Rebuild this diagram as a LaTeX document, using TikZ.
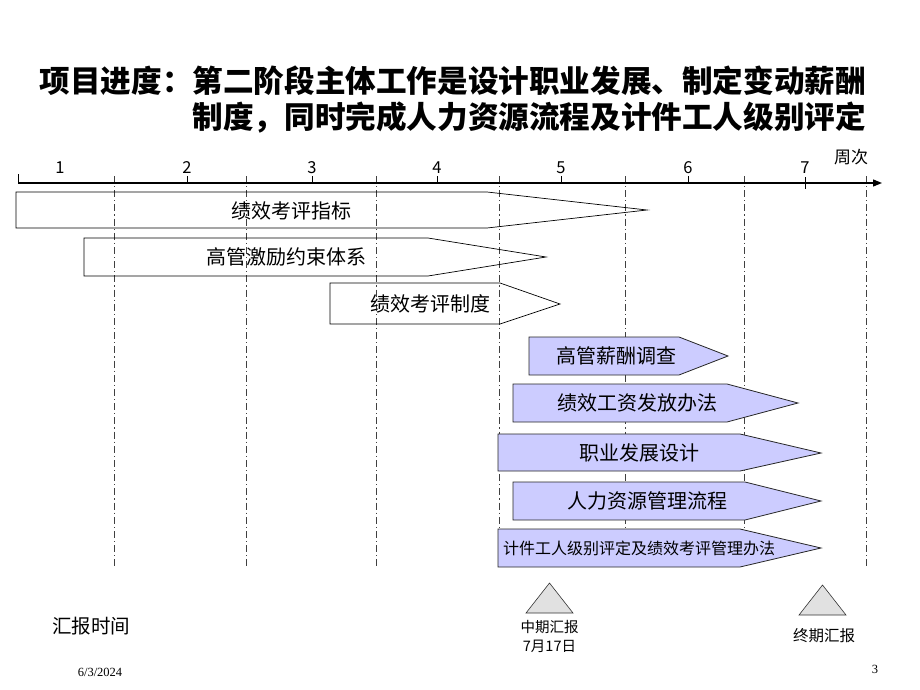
\documentclass[tikz,border=0pt]{standalone}
\usepackage{fontspec}
\setmainfont{Noto Sans CJK SC}
\newfontfamily\datefont{Liberation Serif}
\usetikzlibrary{positioning,arrows.meta}
\definecolor{mylavender}{RGB}{204,204,255}
\definecolor{mygray}{RGB}{225,225,225}

\begin{document}
\begin{tikzpicture}[x=1pt,y=-1pt,
  grid/.style={line width=0.6pt,black!75,dash pattern=on 7pt off 3pt on 1.2pt off 3pt},
  oldbar/.style={draw=black,line width=0.7pt},
  newbar/.style={draw=black!85,fill=mylavender,line width=0.8pt},
  barlabel/.style={font=\fontsize{20}{24}\selectfont,inner sep=0pt},
  weeklabel/.style={font=\fontsize{16.5}{19}\selectfont,inner sep=0pt},
  milestone/.style={draw=black!80,fill=mygray,line width=0.6pt},
  reportlabel/.style={font=\fontsize{14.5}{19}\selectfont,align=center,inner sep=0pt}]

  \useasboundingbox (0,0) rectangle (920,690);

  % title
  \node (title1) [anchor=east,inner sep=0pt,font=\fontsize{30.6}{36}\selectfont\bfseries]
    at (866,81) {项目进度：第二阶段主体工作是设计职业发展、制定变动薪酬};
  \node (title2) [anchor=east,inner sep=0pt,font=\fontsize{30.6}{36}\selectfont\bfseries]
    at (866,118) {制度，同时完成人力资源流程及计件工人级别评定};

  % week separators
  \foreach \x in {114,246,376,499,625,744,866}
    \draw[grid] (\x,176) -- (\x,568);

  % time axis
  \coordinate (axstart) at (18,183);
  \coordinate (axend) at (882,183);
  \draw[line width=1.3pt,-{Triangle[length=9pt,width=7pt]}] (axstart) -- (axend);
  \draw[line width=1pt] (18,174) -- (axstart);
  \node (w1) [weeklabel] at (60,168) {1};
  \foreach \x/\n in {187/2,312/3,437/4,561/5,688/6}{
    \node (w\n) [weeklabel] at (\x,168) {\n};
    \draw[line width=1pt] (\x,176) -- (\x,183);
  }
  \node (w7) [weeklabel] at (805,168) {7};
  \draw[line width=1pt] (805,177) -- (805,189);
  \node (weeks) [weeklabel,font=\fontsize{17}{20}\selectfont] at (851,157) {周次};

  % phase one tasks
  \draw[oldbar] (16,192) -- (487,192) -- (647,210) -- (487,228) -- (16,228) -- cycle;
  \node (kpi) [barlabel] at (291,211) {绩效考评指标};
  \draw[oldbar] (84,238) -- (428,238) -- (546,257) -- (428,276) -- (84,276) -- cycle;
  \node (incentive) [barlabel] at (286,257) {高管激励约束体系};
  \draw[oldbar] (330,283) -- (500,283) -- (560,304) -- (500,324) -- (330,324) -- cycle;
  \node (kpirule) [barlabel] at (430,304) {绩效考评制度};

  % phase two tasks
  \draw[newbar] (529,337) -- (679,337) -- (728,356) -- (679,375) -- (529,375) -- cycle;
  \node (salary) [barlabel] at (616,356) {高管薪酬调查};
  \draw[newbar] (513,384) -- (727,384) -- (798,403) -- (727,422) -- (513,422) -- cycle;
  \node (bonus) [barlabel] at (637,403) {绩效工资发放办法};
  \draw[newbar] (498,434) -- (740,434) -- (821,453) -- (740,471) -- (498,471) -- cycle;
  \node (career) [barlabel] at (639,453) {职业发展设计};
  \draw[newbar] (513,482) -- (745,482) -- (821,501) -- (745,520) -- (513,520) -- cycle;
  \node (hrflow) [barlabel] at (647,501) {人力资源管理流程};
  \draw[newbar] (498,529) -- (740,529) -- (821,548) -- (740,567) -- (498,567) -- cycle;
  \node (piecework) [barlabel,font=\fontsize{16}{19}\selectfont] at (639,548)
    {计件工人级别评定及绩效考评管理办法};

  % reports
  \node (reports) [barlabel,font=\fontsize{19.5}{23}\selectfont] at (91,626) {汇报时间};
  \coordinate (midrep) at (549.5,613);
  \draw[milestone] (526,613) -- (573,613) -- (549.5,583) -- cycle;
  \node (midlabel) [reportlabel,anchor=north] at (549.5,620) {中期汇报\\7月17日};
  \coordinate (finalrep) at (822.5,615);
  \draw[milestone] (799,615) -- (846,615) -- (822.5,585) -- cycle;
  \node (finallabel) [reportlabel,font=\fontsize{15.5}{19}\selectfont] at (824,636) {终期汇报};

  % footer
  \node (date) [inner sep=0pt,font=\datefont\fontsize{12.5}{14}\selectfont] at (100,672) {6/3/2024};
  \node (page) [inner sep=0pt,font=\datefont\fontsize{12.5}{14}\selectfont] at (875,669) {3};
\end{tikzpicture}
\end{document}
